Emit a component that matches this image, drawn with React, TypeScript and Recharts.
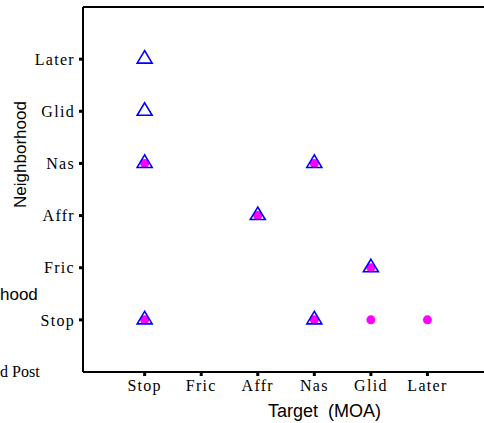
import { ScatterChart, Scatter, XAxis, YAxis, ReferenceLine } from 'recharts';

// manner-of-articulation categories, in axis order (1..6)
const moaLabels = ['Stop', 'Fric', 'Affr', 'Nas', 'Glid', 'Later'];
const tickValues = [1, 2, 3, 4, 5, 6];

// blue open triangles
const triTarget = ['Stop', 'Stop', 'Stop', 'Affr', 'Nas', 'Glid', 'Stop', 'Nas'];
const triNeighborhood = ['Later', 'Glid', 'Nas', 'Affr', 'Nas', 'Fric', 'Stop', 'Stop'];

// magenta dots
const dotTarget = ['Stop', 'Affr', 'Nas', 'Glid', 'Stop', 'Nas', 'Glid', 'Later'];
const dotNeighborhood = ['Nas', 'Affr', 'Nas', 'Fric', 'Stop', 'Stop', 'Stop', 'Stop'];

const idx = (name: string) => moaLabels.indexOf(name) + 1;

const triData = triTarget.map((t, i) => ({ x: idx(t), y: idx(triNeighborhood[i]) }));
const dotData = dotTarget.map((t, i) => ({ x: idx(t), y: idx(dotNeighborhood[i]) }));

const serif = '"Liberation Serif", "Times New Roman", serif';
const sans = '"Liberation Sans", Arial, sans-serif';

const tickStyle = { fill: '#000', fontSize: 16, fontFamily: serif, letterSpacing: 1.3 };

function Triangle(props: any) {
  const { cx, cy } = props;
  if (cx == null || cy == null) return null;
  const pts = `${cx},${cy - 8.5} ${cx - 7.5},${cy + 4} ${cx + 7.5},${cy + 4}`;
  return <polygon points={pts} fill="none" stroke="#0000ff" strokeWidth={1.6} />;
}

function Dot(props: any) {
  const { cx, cy } = props;
  if (cx == null || cy == null) return null;
  return <circle cx={cx} cy={cy} r={4.5} fill="#ff00ff" />;
}

export default function App() {
  return (
    <div style={{ position: 'absolute', left: 0, top: 0, width: 484, height: 423, background: '#fff' }}>
      <ScatterChart width={484} height={423} margin={{ top: 7, right: 0, bottom: 21, left: 0 }}>
        <XAxis
          type="number"
          dataKey="x"
          domain={[-0.09, 7]}
          ticks={tickValues}
          tickFormatter={(v) => moaLabels[v - 1]}
          tick={tickStyle}
          tickSize={4}
          tickMargin={4}
          height={30}
          axisLine={{ stroke: '#000', strokeWidth: 2 }}
          tickLine={{ stroke: '#000', strokeWidth: 3 }}
          allowDataOverflow
        />
        <YAxis
          type="number"
          dataKey="y"
          domain={[0, 7]}
          ticks={tickValues}
          tickFormatter={(v) => moaLabels[v - 1]}
          tick={tickStyle}
          tickSize={4}
          tickMargin={4}
          width={83}
          axisLine={{ stroke: '#000', strokeWidth: 2 }}
          tickLine={{ stroke: '#000', strokeWidth: 3 }}
          label={{
            value: 'Neighborhood',
            angle: -90,
            position: 'insideLeft',
            offset: 20,
            dy: -35,
            style: { fill: '#000', fontSize: 17, fontFamily: sans, textAnchor: 'middle' },
          }}
        />
        <ReferenceLine y={7} stroke="#000" strokeWidth={2} ifOverflow="extendDomain" />
        <Scatter data={dotData} shape={<Dot />} isAnimationActive={false} />
        <Scatter data={triData} shape={<Triangle />} isAnimationActive={false} />
      </ScatterChart>
      <div style={{ position: 'absolute', left: 268, top: 401, fontFamily: sans, fontSize: 18, color: '#000', whiteSpace: 'pre' }}>
        Target  (MOA)
      </div>
      {/* fragments of a neighbouring panel's labels, visible at the left edge */}
      <div style={{ position: 'absolute', left: 0, top: 285, fontFamily: sans, fontSize: 17, color: '#000', whiteSpace: 'pre' }}>
        hood
      </div>
      <div style={{ position: 'absolute', left: 0, top: 363, fontFamily: serif, fontSize: 16, color: '#000', whiteSpace: 'pre' }}>
        d Post
      </div>
    </div>
  );
}
